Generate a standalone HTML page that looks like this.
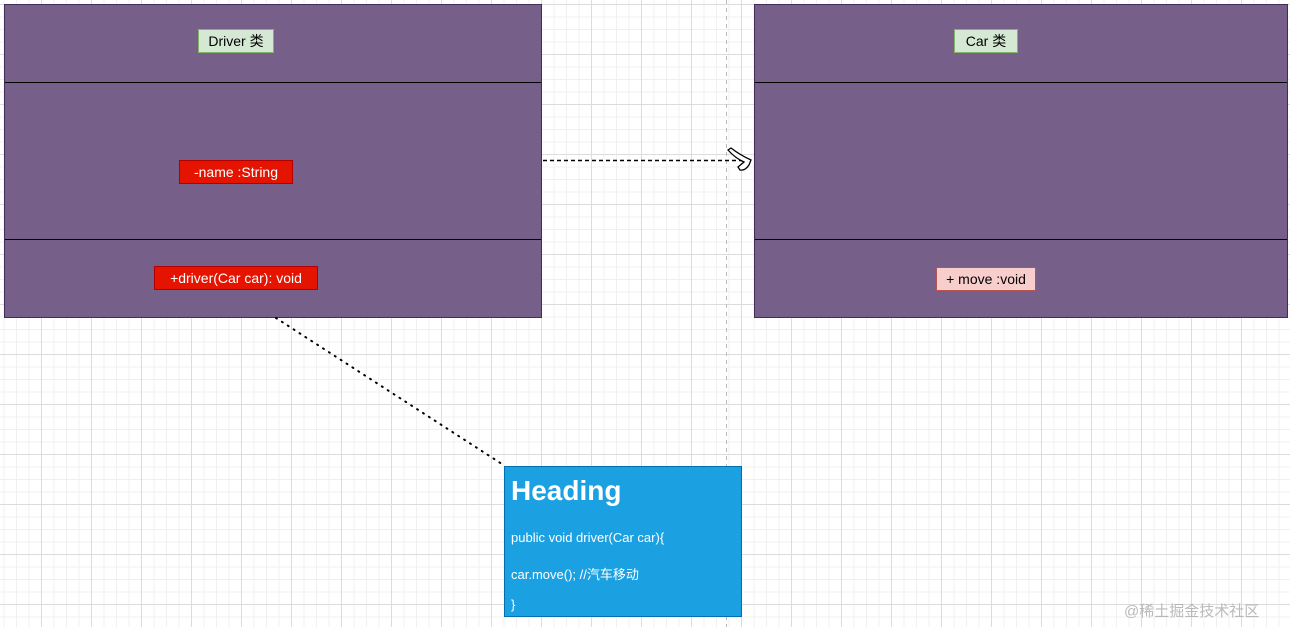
<!DOCTYPE html>
<html><head><meta charset="utf-8"><style>
html,body{margin:0;padding:0;}
body{width:1290px;height:627px;position:relative;overflow:hidden;font-family:"Liberation Sans","Noto Sans CJK SC",sans-serif;
background-color:#fff;
background-image:linear-gradient(#dcdcdc 1px,transparent 1px),linear-gradient(90deg,#dcdcdc 1px,transparent 1px),linear-gradient(#f0f0f0 1px,transparent 1px),linear-gradient(90deg,#f0f0f0 1px,transparent 1px);
background-size:50px 50px,50px 50px,12.5px 12.5px,12.5px 12.5px;
background-position:0 4px,-9px 0,0 4px,-9px 0;}
.box{position:absolute;background:#76608a;border:1px solid #432d57;box-sizing:border-box;}
.div{position:absolute;left:0;right:0;height:1px;background:#000;}
.lbl{position:absolute;font-size:14px;line-height:22px;height:24px;box-sizing:border-box;text-align:center;white-space:nowrap;}
.g{background:#d5e8d4;border:1px solid #82b366;color:#000;}
.r{background:#e51400;border:1px solid #b20000;color:#fff;}
.p{background:#f8cecc;border:1px solid #b85450;color:#000;}
</style></head><body>
<div class="box" style="left:4px;top:4px;width:538px;height:314px;">
 <div class="div" style="top:77px"></div><div class="div" style="top:234px"></div>
</div>
<div class="box" style="left:754px;top:4px;width:534px;height:314px;">
 <div class="div" style="top:77px"></div><div class="div" style="top:234px"></div>
</div>
<div class="lbl g" style="left:198px;top:29px;width:76px;">Driver 类</div>
<div class="lbl r" style="left:179px;top:160px;width:114px;">-name :String</div>
<div class="lbl r" style="left:154px;top:266px;width:164px;">+driver(Car car): void</div>
<div class="lbl g" style="left:954px;top:29px;width:64px;">Car 类</div>
<div class="lbl p" style="left:936px;top:267px;width:100px;">+ move :void</div>
<svg style="position:absolute;left:0;top:0" width="1290" height="627">
 <line x1="726.5" y1="0" x2="726.5" y2="627" stroke="#bbb" stroke-dasharray="4,4"/>
 <line x1="543" y1="160.5" x2="750" y2="160.5" stroke="#000" stroke-width="1.5" stroke-dasharray="4,3"/>
 <path d="M728,150 L731,148 Q740,155 751,160 L749,165 Q745,171 740,170 L738,167 L744,162 Q735,158 728,150 Z" fill="#fff" stroke="#000" stroke-width="1.3"/>
 <line x1="276" y1="318" x2="505" y2="466" stroke="#000" stroke-width="2" stroke-dasharray="1,6" stroke-linecap="round"/>
</svg>
<div style="position:absolute;left:504px;top:466px;width:238px;height:151px;background:#1ba1e2;border:1px solid #006eaf;box-sizing:border-box;color:#fff;">
 <div style="position:absolute;left:6px;top:8px;font-size:28px;font-weight:bold;">Heading</div>
 <div style="position:absolute;left:6px;top:63px;font-size:13px;">public void driver(Car car){</div>
 <div style="position:absolute;left:6px;top:97px;font-size:13px;">car.move(); //汽车移动</div>
 <div style="position:absolute;left:6px;top:130px;font-size:13px;">}</div>
</div>
<div style="position:absolute;left:1124px;top:600px;font-size:15px;color:#aaa;opacity:.8;">@稀土掘金技术社区</div>
</body></html>
